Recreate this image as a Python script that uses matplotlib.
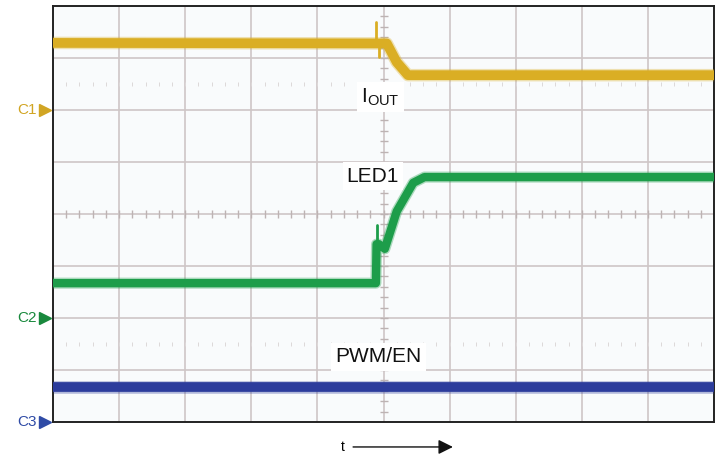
import numpy as np
import matplotlib.pyplot as plt

plt.rcParams['font.family'] = ['Liberation Sans', 'DejaVu Sans']
plt.rcParams['mathtext.fontset'] = 'custom'
plt.rcParams['mathtext.rm'] = 'Liberation Sans'

# traces (time in divisions, level in divisions from bottom)
iout_t = [0, 5.05, 5.20, 5.37, 10]
iout_v = [7.29, 7.28, 6.92, 6.67, 6.67]
# narrow glitches on the I_OUT trace: (time, from level, to level)
iout_glitch = [(4.885, 7.29, 7.69), (4.93, 7.29, 7.02)]

led_t = [0, 4.885, 4.895, 4.93, 5.02, 5.20, 5.45, 5.62, 10]
led_v = [2.67, 2.67, 3.42, 3.42, 3.33, 4.05, 4.60, 4.71, 4.71]
led_glitch = [(4.905, 3.42, 3.79)]

pwm_t = [0, 10]
pwm_v = [0.67, 0.67]

channels = ["C1", "C2", "C3"]
channel_levels = [6, 2, 0]
labels = ["I$_{\\rm OUT}$", "LED1", "PWM/EN"]
label_pos = [(4.95, 6.25), (4.84, 4.73), (4.92, 1.25)]

yellow = "#DAAE24"
green = "#1D9D4A"
blue = "#2C3C9C"
label_colors = ["#D1A523", "#19893D", "#2F4BA6"]
grid_col = "#CEC6C6"

fig = plt.figure(figsize=(7.19, 4.54), dpi=100)
ax = fig.add_axes([53 / 719, 32 / 454, 661 / 719, 416 / 454])
ax.set_facecolor("#F9FBFC")
ax.set_xlim(0, 10)
ax.set_ylim(0, 8)
ax.set_xticks([])
ax.set_yticks([])
for s in ax.spines.values():
    s.set_linewidth(1.4)
    s.set_color("#222222")

# graticule
for x in range(1, 10):
    ax.axvline(x, color=grid_col, lw=1.2, zorder=1)
for y in range(1, 8):
    ax.axhline(y, color=grid_col, lw=1.2, zorder=1)

minor_x = np.arange(0.2, 10, 0.2)
minor_y = np.arange(0.2, 8, 0.2)
ax.plot(minor_x, np.full_like(minor_x, 4), ls="none", marker="|", ms=6,
        mew=1.0, color="#BDB3B3", zorder=1)
ax.plot(np.full_like(minor_y, 5), minor_y, ls="none", marker="_", ms=6,
        mew=1.0, color="#BDB3B3", zorder=1)
for y in [1.5, 6.5]:
    ax.plot(minor_x, np.full_like(minor_x, y), ls="none", marker="|", ms=2.5,
            mew=0.7, color="#DDD8D8", zorder=1)

# traces
for t, v, c, lw in [(iout_t, iout_v, yellow, 7.0),
                    (led_t, led_v, green, 6.0),
                    (pwm_t, pwm_v, blue, 7.0)]:
    ax.plot(t, v, color=c, lw=lw + 2, alpha=0.35, solid_capstyle="butt",
            solid_joinstyle="round", zorder=3)
    ax.plot(t, v, color=c, lw=lw, solid_capstyle="butt",
            solid_joinstyle="round", zorder=4)

for glitches, c in [(iout_glitch, yellow), (led_glitch, green)]:
    for x, y0, y1 in glitches:
        ax.plot([x, x], [y0, y1], color=c, lw=2.0, solid_capstyle="round",
                zorder=4)

# trace labels
for lab, (x, y) in zip(labels, label_pos):
    ax.text(x, y, lab, fontsize=15, ha="center", va="center", color="#111111",
            zorder=5, bbox=dict(facecolor="white", edgecolor="none", pad=3))

# channel markers
for ch, lvl, c in zip(channels, channel_levels, label_colors):
    ax.plot([-0.12], [lvl], marker=">", ms=8, color=c, clip_on=False, zorder=6)
    ax.text(-0.25, lvl, ch, fontsize=11, color=c, ha="right", va="center",
            clip_on=False)

# time arrow
ax.text(4.39, -0.48, "t", fontsize=10, ha="center", va="center",
        clip_on=False)
ax.annotate("", xy=(6.05, -0.48), xytext=(4.54, -0.48),
            xycoords="data", textcoords="data", annotation_clip=False,
            arrowprops=dict(arrowstyle="-|>", lw=1.0, color="#111111",
                            mutation_scale=22, shrinkA=0, shrinkB=0))

fig.savefig("out.png", dpi=100)
